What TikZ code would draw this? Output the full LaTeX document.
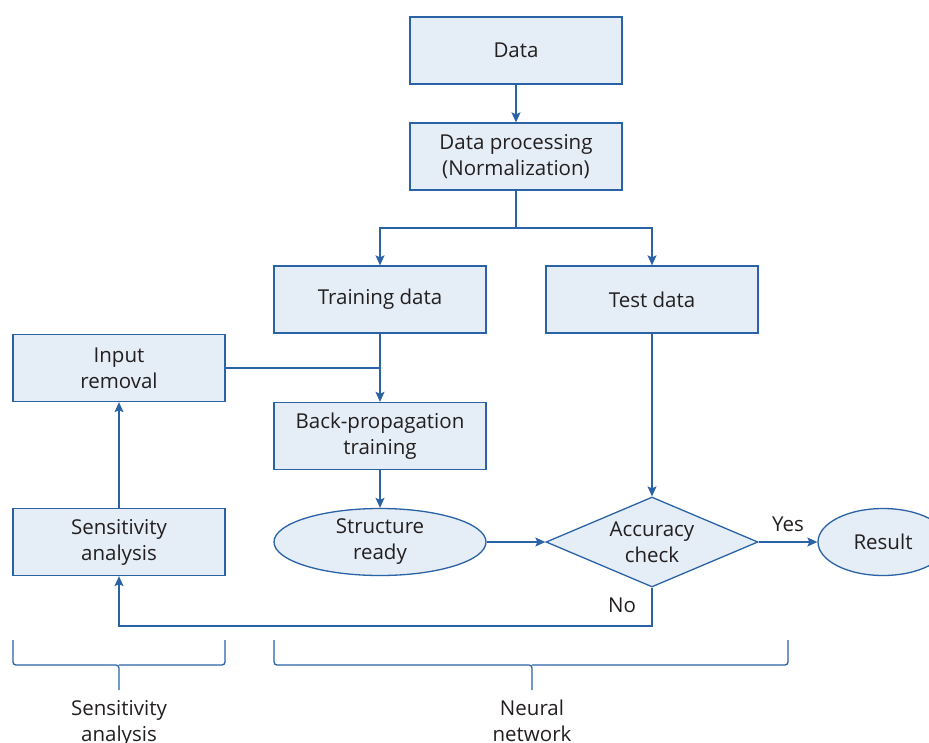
\documentclass[tikz,border=0pt]{standalone}
\usepackage{fontspec}
\setmainfont{Open Sans}
\usetikzlibrary{shapes.geometric,arrows.meta}
\definecolor{lineblue}{HTML}{2A62A6}
\definecolor{fillblue}{HTML}{E5EDF6}
\definecolor{txt}{HTML}{231F20}
\tikzset{
  box/.style={draw=lineblue,fill=fillblue,line width=1.3pt,minimum width=212pt,minimum height=67pt,inner sep=0pt,align=center,text=txt,font=\fontsize{20.5}{26}\selectfont},
  oval/.style={box,ellipse},
  decide/.style={box,diamond,minimum width=212pt,minimum height=90pt},
  conn/.style={draw=lineblue,line width=1.3pt},
  arr/.style={conn,-{Stealth[length=10pt,width=9pt,inset=2pt]}},
  lab/.style={text=txt,font=\fontsize{20.5}{26}\selectfont,align=center,inner sep=0pt},
  brace/.style={draw=lineblue,line width=1.3pt,rounded corners=3pt}
}
\begin{document}
\begin{tikzpicture}[x=1pt,y=-1pt]
\useasboundingbox (0,0) rectangle (929,742);
\node[box] (data) at (516,50.5) {Data};
\node[box] (dp) at (516,156.5) {Data processing\\(Normalization)};
\node[box] (train) at (380,299.5) {Training data};
\node[box] (test) at (652,299.5) {Test data};
\node[box] (inrem) at (119,368) {Input\\removal};
\node[box] (bp) at (380,436) {Back-propagation\\training};
\node[box] (sens) at (119,542) {Sensitivity\\analysis};
\node[oval] (sr) at (380,542) {Structure\\ready};
\node[decide] (acc) at (652,542) {};
\node[lab] (acctext) at (acc.center) {Accuracy\\check};
\node[oval,minimum width=130pt] (res) at (883,542) {Result};
\coordinate (split) at (516,228);
\coordinate (join) at (380,368);
\coordinate (loop) at (652,626);

\draw[arr] (data) -- (dp);
\draw[conn] (dp.south) -- (split);
\draw[arr] (split) -| (train.north);
\draw[arr] (split) -| (test.north);
\draw[arr] (train) -- (bp);
\draw[conn] (inrem.east) -- (join);
\draw[arr] (bp) -- (sr);
\draw[arr] (sens) -- (inrem);
\draw[arr] (sr) -- (acc.west);
\draw[arr] (test) -- (acc.north);
\draw[arr] (acc.east) -- node[lab,above=10pt] (yes) {Yes} (res.west);
\draw[arr] (acc.south) -- (loop) -| (sens.south);
\node[lab] (no) at (622,605) {No};

% braces
\draw[brace] (13,640) -- (13,665) -- (119,665) -- (119,690);
\draw[brace] (225,640) -- (225,665) -- (119,665);
\draw[brace] (274,640) -- (274,665) -- (532,665) -- (532,690);
\draw[brace] (788,640) -- (788,665) -- (532,665);
\node[lab,anchor=north] (salab) at (119,700) {Sensitivity\\analysis};
\node[lab,anchor=north] (nnlab) at (532,700) {Neural\\network};
\end{tikzpicture}
\end{document}
